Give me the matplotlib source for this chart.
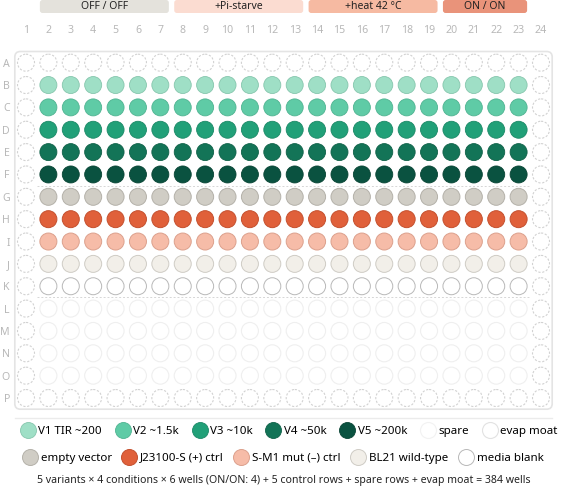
import matplotlib
matplotlib.use("Agg")
import matplotlib.pyplot as plt
from matplotlib.patches import Circle, FancyBboxPatch
from matplotlib.lines import Line2D

plt.rcParams['font.family'] = ['Noto Sans', 'DejaVu Sans']

# plate layout: 16 rows x 24 columns
row_labels = list("ABCDEFGHIJKLMNOP")
col_labels = [str(i) for i in range(1, 25)]

# condition blocks over the columns
conditions = ["OFF / OFF", "+Pi-starve", "+heat 42 °C", "ON / ON"]
condition_first_col = [2, 8, 14, 20]
condition_last_col = [7, 13, 19, 23]
condition_colors = ["#e4e2dc", "#fbdcd1", "#f6baa2", "#e9937a"]

# variant rows
variant_names = ["V1 TIR ~200", "V2 ~1.5k", "V3 ~10k", "V4 ~50k", "V5 ~200k"]
variant_rows = ["B", "C", "D", "E", "F"]
variant_colors = ["#9fdfc6", "#5fcba6", "#21a078", "#137457", "#0a5240"]
variant_edges = ["#86c6ad", "#4fb391", "#1b8866", "#0f6148", "#084434"]

# control rows
control_names = ["empty vector", "J23100-S (+) ctrl", "S-M1 mut (–) ctrl",
                 "BL21 wild-type", "media blank"]
control_rows = ["G", "H", "I", "J", "K"]
control_colors = ["#d0cdc5", "#e0603a", "#f6bca8", "#f2efe9", "#ffffff"]
control_edges = ["#b4b1a9", "#c4502e", "#dca08c", "#cfccc5", "#b8b8b8"]

spare_rows = ["L", "M", "N", "O"]

caption = ("5 variants × 4 conditions × 6 wells (ON/ON: 4) + 5 control rows"
           " + spare rows + evap moat = 384 wells")

W, H = 567, 497
fig = plt.figure(figsize=(W / 100, H / 100), dpi=100)

x0, x1 = 14.8, 552.2      # plate left/right (px)
y0, y1 = 51.5, 409.2      # plate top/bottom (px)
ax = fig.add_axes([x0 / W, 1 - y1 / H, (x1 - x0) / W, (y1 - y0) / H])
ax.set_xlim(0.5, 24.5)
ax.set_ylim(15.5, -0.5)
for s in ax.spines.values():
    s.set_visible(False)

ax.set_xticks(range(1, 25))
ax.set_xticklabels(col_labels)
ax.xaxis.tick_top()
ax.set_yticks(range(16))
ax.set_yticklabels(row_labels)
ax.tick_params(axis='x', length=0, pad=11.5, labelsize=7.6, labelcolor="#b8b8b8")
ax.tick_params(axis='y', length=0, pad=3.5, labelsize=7.6, labelcolor="#b8b8b8")

ax.add_patch(FancyBboxPatch((0.5, -0.5), 24, 16,
                            boxstyle="round,pad=0,rounding_size=0.25",
                            fc="white", ec="#e4e4e4", lw=1.2, clip_on=False, zorder=0))

R = 0.38
for r, rl in enumerate(row_labels):
    for c in range(1, 25):
        moat = r in (0, 15) or c in (1, 24)
        if moat:
            ax.add_patch(Circle((c, r), R, fc="white", ec="#d2d2d2", lw=0.8,
                                ls=(0, (2, 1.5)), zorder=2))
        elif rl in variant_rows:
            i = variant_rows.index(rl)
            ax.add_patch(Circle((c, r), R, fc=variant_colors[i],
                                ec=variant_edges[i], lw=0.6, zorder=2))
        elif rl in control_rows:
            i = control_rows.index(rl)
            ax.add_patch(Circle((c, r), R, fc=control_colors[i],
                                ec=control_edges[i], lw=0.7, zorder=2))
        else:
            ax.add_patch(Circle((c, r), R, fc="white", ec="#efefef", lw=0.8, zorder=2))

# dashed separators between groups
for yy in (5.5, 10.5):
    ax.plot([1.5, 23.5], [yy, yy], color="#d6d6d6", lw=0.7, ls=(0, (2, 2)), zorder=1)

# condition header bands
hax = fig.add_axes([x0 / W, 1 - 13 / H, (x1 - x0) / W, 13 / H])
hax.set_xlim(0.5, 24.5)
hax.set_ylim(0, 13 / 22.39)
hax.axis("off")
for name, c0, c1, col in zip(conditions, condition_first_col, condition_last_col,
                             condition_colors):
    hax.add_patch(FancyBboxPatch((c0 - 0.5 + 0.12, 0), c1 - c0 + 1 - 0.24, 13 / 22.39,
                                 boxstyle="round,pad=0,rounding_size=0.12",
                                 fc=col, ec="none"))
    hax.text((c0 + c1) / 2, 13 / 22.39 / 2, name, ha="center", va="center",
             fontsize=7.5, color="#222222")

fig.add_artist(Line2D([x0 / W, x1 / W], [1 - 418 / H, 1 - 418 / H],
                      color="#ebebeb", lw=1.0))

# legend rows
h1 = [Line2D([], [], ls="", marker="o", markersize=11.5, mfc=fc, mec=ec, mew=0.6)
      for fc, ec in zip(variant_colors, variant_edges)]
h1 += [Line2D([], [], ls="", marker="o", markersize=11.5, mfc="white", mec="#f2f2f2", mew=0.8),
       Line2D([], [], ls="", marker="o", markersize=11.5, mfc="white", mec="#e2e2e2", mew=0.8)]
n1 = variant_names + ["spare", "evap moat"]
fig.legend(handles=h1, labels=n1, loc="center left", bbox_to_anchor=(21 / W, 1 - 431 / H),
           ncol=7, frameon=False, fontsize=8.3, handlelength=1.2, handletextpad=0.3,
           columnspacing=1.2, borderpad=0, borderaxespad=0)

h2 = [Line2D([], [], ls="", marker="o", markersize=11.5, mfc=fc, mec=ec, mew=0.7)
      for fc, ec in zip(control_colors, control_edges)]
fig.legend(handles=h2, labels=control_names, loc="center left",
           bbox_to_anchor=(23 / W, 1 - 458 / H), ncol=5, frameon=False, fontsize=8.3,
           handlelength=1.2, handletextpad=0.35, columnspacing=0.9, borderpad=0,
           borderaxespad=0)

fig.text(0.5, 1 - 481 / H, caption, ha="center", va="center", fontsize=7.6,
         color="#222222")

fig.savefig("out.png", dpi=100)
